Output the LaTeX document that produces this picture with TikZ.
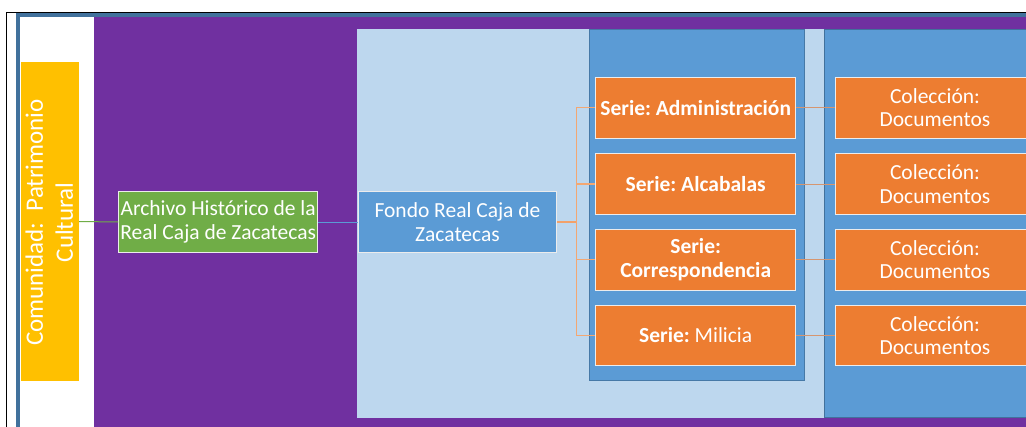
\documentclass[tikz,border=0pt]{standalone}
\usepackage{fontspec}
\setmainfont{Carlito}
\frenchspacing
\definecolor{purp}{HTML}{7030A0}
\definecolor{yel}{HTML}{FFC000}
\definecolor{grn}{HTML}{70AD47}
\definecolor{blu}{HTML}{5B9BD5}
\definecolor{lblu}{HTML}{BDD7EE}
\definecolor{org}{HTML}{ED7D31}
\definecolor{steel}{HTML}{41719C}
\definecolor{lorg}{HTML}{F4B183}
\definecolor{tan}{RGB}{214,150,112}
\tikzset{
  box/.style={draw=white!85!gray, line width=0.9pt, text=white, align=center, inner sep=0pt,
    font=\fontsize{21.5}{23.5}\selectfont},
  serbox/.style={box, fill=org, minimum width=200pt, minimum height=60.6pt},
  colbox/.style={box, fill=org, minimum width=200pt, minimum height=60.6pt},
  conn/.style={line width=1pt},
}
\begin{document}
\begin{tikzpicture}[x=1pt,y=-1pt]
\useasboundingbox (0,0) rectangle (1026,426);
\clip (0,0) rectangle (1026,426);
\fill[white] (0,0) rectangle (1026,426);
% outer black frame
\draw[black, line width=1.6pt] (6.5,430) -- (6.5,12.5) -- (1030,12.5);
% steel frame
\fill[steel] (16,13.3) rectangle (1030,430);
\fill[white] (20,17) rectangle (1030,430);
% purple band
\fill[purp] (94.3,17) rectangle (1030,430);
% light blue panel
\fill[lblu] (357.3,29) rectangle (824,417.7);
% right dark panel
\filldraw[fill=blu, draw=steel, line width=0.7pt] (824,29) rectangle (1040,417.7);
% series panel
\filldraw[fill=blu, draw=steel!80!blu, line width=0.8pt] (589.3,29) rectangle (804,380);

% yellow
\node[fill=yel, minimum width=58.3pt, minimum height=319pt, inner sep=0pt] (yel) at (49.85,221.5) {};
\node[rotate=90, text=white, align=center, font=\fontsize{25}{30}\selectfont] (yeltxt) at (49.2,222.5) {Comunidad:\ \ Patrimonio\\Cultural};

% archive
\node[box, fill=grn, minimum width=199pt, minimum height=60.6pt] (arch) at (218.2,222) {Archivo Histórico de la\\Real Caja de Zacatecas};
% fondo
\node[box, fill=blu, minimum width=198.4pt, minimum height=60.6pt] (fondo) at (457.5,222) {Fondo Real Caja de\\Zacatecas};

% series
\node[serbox] (s1) at (695.7,107.8) {\textbf{Serie: Administración}};
\node[serbox] (s2) at (695.7,184) {\textbf{Serie: Alcabalas}};
\node[serbox] (s3) at (695.7,259.7) {\textbf{Serie:}\\\textbf{Correspondencia}};
\node[serbox] (s4) at (695.7,335.5) {\textbf{Serie:} Milicia};

% colecciones
\node[colbox] (c1) at (935,107.8) {Colección:\\Documentos};
\node[colbox] (c2) at (935,184) {Colección:\\Documentos};
\node[colbox] (c3) at (935,259.7) {Colección:\\Documentos};
\node[colbox] (c4) at (935,335.5) {Colección:\\Documentos};

% connectors
\draw[conn, grn] (yel.east) -- (arch.west);
\draw[conn, blu] (arch.east) -- (fondo.west);
\coordinate (j) at (576.3,222);
\draw[line width=1.6pt, lorg!70!org] (fondo.east) -- (j);
\foreach \s in {s1,s2,s3,s4}{
  \draw[conn, lorg!80!org, line width=1.2pt] (j) |- (\s.west);
}
\foreach \i in {1,2,3,4}{
  \draw[conn, tan] (s\i.east) -- (c\i.west);
}
\end{tikzpicture}
\end{document}
